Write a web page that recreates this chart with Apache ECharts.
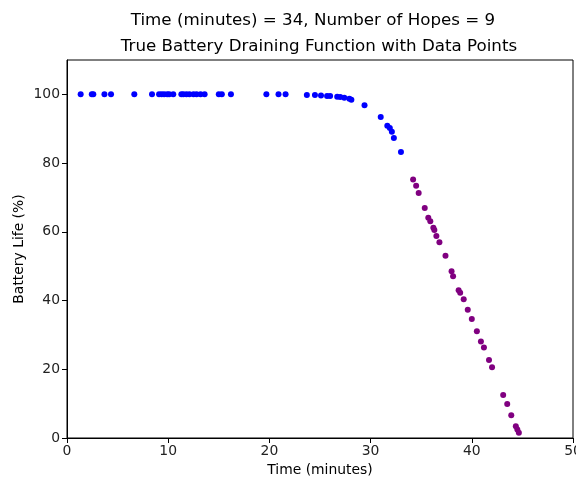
<!DOCTYPE html>
<html>
<head>
<meta charset="utf-8">
<script src="https://cdn.jsdelivr.net/npm/echarts@6/dist/echarts.min.js"></script>
<style>
  html, body { margin: 0; padding: 0; background: #fff; }
  #chart { width: 576px; height: 481px; }
</style>
</head>
<body>
<div id="chart"></div>
<script>
// points up to the current time (blue)
const pastTime = [1.35, 2.45, 2.6, 3.7, 4.35, 6.65, 8.4, 9.1, 9.35, 9.6, 9.9, 10.1, 10.5, 11.3, 11.5, 11.8,
  12.1, 12.5, 12.8, 13.2, 13.6, 15.0, 15.3, 16.2, 19.7, 20.9, 21.6, 23.7, 24.5, 25.1, 25.7, 26.0,
  26.7, 27.0, 27.4, 27.9, 28.1, 29.4, 31.0, 31.65, 31.9, 32.1, 32.3, 33.0]
const pastBattery = [100, 100, 100, 100, 100, 100, 100, 100, 100, 100, 100, 100, 100, 100, 100, 100,
  100, 100, 100, 100, 100, 100, 100, 100, 100, 100, 100, 99.8, 99.8, 99.7, 99.5, 99.5,
  99.3, 99.2, 99.0, 98.7, 98.4, 96.8, 93.4, 90.9, 90.2, 89.1, 87.3, 83.2]
// points after the current time (purple)
const futureTime = [34.2, 34.5, 34.75, 35.35, 35.7, 35.9, 36.2, 36.3, 36.5, 36.8, 37.4, 38.0, 38.15,
  38.7, 38.85, 39.2, 39.6, 40.0, 40.5, 40.9, 41.2, 41.7, 42.0, 43.1, 43.5, 43.9, 44.35, 44.5, 44.65]
const futureBattery = [75.2, 73.4, 71.3, 66.9, 64.1, 63.1, 61.2, 60.5, 58.8, 57.0, 53.0, 48.5, 47.1,
  43.0, 42.3, 40.4, 37.3, 34.6, 31.1, 28.1, 26.3, 22.7, 20.6, 12.5, 9.9, 6.6, 3.4, 2.5, 1.5]
const xTicks = [0, 10, 20, 30, 40, 50]
const yTicks = [0, 20, 40, 60, 80, 100]

const chart = echarts.init(document.getElementById('chart'))
const font = 'DejaVu Sans'

const pastData = pastTime.map((t, i) => [t, pastBattery[i]])
const futureData = futureTime.map((t, i) => [t, futureBattery[i]])

chart.setOption({
  animation: false,
  title: [
    {
      text: 'Time (minutes) = 34, Number of Hopes = 9',
      left: 308,
      top: 7,
      textAlign: 'center',
      textStyle: { fontFamily: font, fontSize: 16.7, fontWeight: 'normal', color: '#000' }
    },
    {
      text: 'True Battery Draining Function with Data Points',
      left: 314,
      top: 33,
      textAlign: 'center',
      textStyle: { fontFamily: font, fontSize: 16.7, fontWeight: 'normal', color: '#000' }
    }
  ],
  grid: {
    left: 67,
    right: 3,
    top: 60,
    bottom: 43,
    outerBoundsMode: 'none',
    containLabel: false,
    show: true,
    borderColor: '#000',
    borderWidth: 1
  },
  xAxis: {
    type: 'value',
    min: xTicks[0],
    max: xTicks[xTicks.length - 1],
    interval: 10,
    name: 'Time (minutes)',
    nameLocation: 'middle',
    nameGap: 25,
    nameTextStyle: { fontFamily: font, fontSize: 13.9, color: '#000' },
    axisLine: { show: true, lineStyle: { color: '#000' } },
    axisTick: { show: true, length: 5, lineStyle: { color: '#000' }, customValues: xTicks },
    axisLabel: { fontFamily: font, fontSize: 13.9, color: '#222', margin: 6, customValues: xTicks },
    splitLine: { show: false }
  },
  yAxis: {
    type: 'value',
    min: 0,
    max: 110,
    interval: 10,
    name: 'Battery Life (%)',
    nameLocation: 'middle',
    nameGap: 41,
    nameMoveOverlap: false,
    nameTextStyle: { fontFamily: font, fontSize: 13.9, color: '#000' },
    axisLine: { show: true, lineStyle: { color: '#000' } },
    axisTick: { show: true, length: 5, lineStyle: { color: '#000' }, customValues: yTicks },
    axisLabel: { fontFamily: font, fontSize: 13.9, color: '#222', margin: 7, customValues: yTicks },
    splitLine: { show: false }
  },
  series: [
    {
      type: 'scatter',
      data: pastData,
      symbolSize: 6,
      itemStyle: { color: '#0000ff', opacity: 1 }
    },
    {
      type: 'scatter',
      data: futureData,
      symbolSize: 6,
      itemStyle: { color: '#800080', opacity: 1 }
    }
  ]
})
</script>
</body>
</html>
